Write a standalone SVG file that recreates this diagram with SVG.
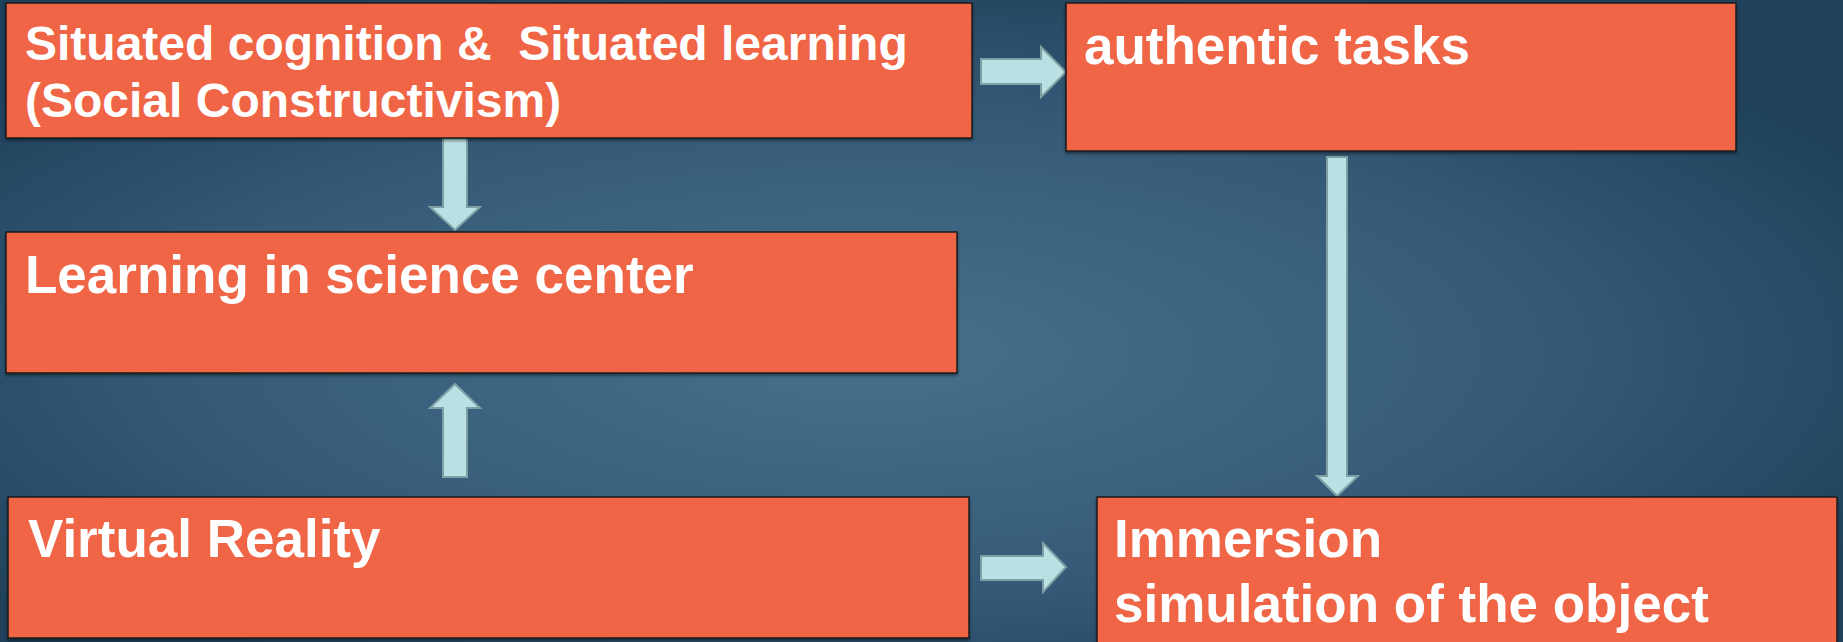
<svg xmlns="http://www.w3.org/2000/svg" width="1843" height="642" viewBox="0 0 1843 642">
<defs>
<radialGradient id="bg" cx="0.47" cy="0.55" r="0.62">
<stop offset="0" stop-color="#46718D"/>
<stop offset="0.6" stop-color="#355A77"/>
<stop offset="1" stop-color="#1F415B"/>
</radialGradient>
<filter id="sh" x="-5%" y="-5%" width="110%" height="115%">
<feDropShadow dx="0" dy="2" stdDeviation="1.5" flood-color="#000" flood-opacity="0.45"/>
</filter>
</defs>
<style>
.box{fill:#F06544;stroke:#1b1b1b;stroke-width:1.5;filter:url(#sh)}
.t{font-family:"Liberation Sans",Arial,sans-serif;font-weight:bold;fill:#fff;font-size:53px}
.arr{fill:#B9E0E3;stroke:#7E9FA4;stroke-width:2;stroke-linejoin:miter}
</style>
<rect width="1843" height="642" fill="url(#bg)"/>
<g id="connectors">
<polygon class="arr" points="981,59 1041,59 1041,47 1066,72 1041,97 1041,84 981,84"/>
<polygon class="arr" points="443,138 467,138 467,207 480,207 455,230 430,207 443,207"/>
<polygon class="arr" points="443,477 467,477 467,408 480,408 455,384 430,408 443,408"/>
<polygon class="arr" points="981,556 1043,556 1043,543 1066,567 1043,592 1043,580 981,580"/>
<polygon class="arr" points="1327,157 1347,157 1347,476 1358,476 1337,496 1317,476 1327,476"/>
</g>
<g id="n1">
<rect class="box" x="6" y="3" width="966" height="135"/>
<text class="t" style="font-size:48px"><tspan x="25" y="60" xml:space="preserve">Situated cognition &amp;  Situated learning</tspan><tspan x="25" y="117">(Social Constructivism)</tspan></text>
</g>
<g id="n2">
<rect class="box" x="1066" y="3" width="670" height="148"/>
<text class="t" x="1084" y="64">authentic tasks</text>
</g>
<g id="n3">
<rect class="box" x="6" y="232" width="951" height="141"/>
<text class="t" x="25" y="293">Learning in science center</text>
</g>
<g id="n4">
<rect class="box" x="8" y="497" width="961" height="141"/>
<text class="t" x="28" y="557">Virtual Reality</text>
</g>
<g id="n5">
<rect class="box" x="1097" y="497" width="740" height="150"/>
<text class="t"><tspan x="1114" y="557">Immersion</tspan><tspan x="1114" y="622">simulation of the object</tspan></text>
</g>
</svg>
